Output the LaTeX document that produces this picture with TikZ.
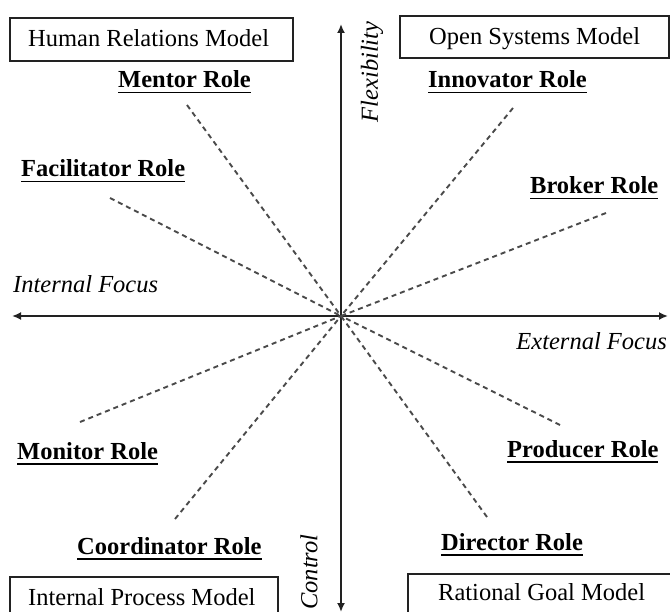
\documentclass[tikz,border=0pt]{standalone}
\usepackage{fontspec}
\setmainfont{Liberation Serif}
\usetikzlibrary{arrows.meta}
\newcommand\roleul[1]{\setbox0\hbox{#1}\rlap{\rule[-5.5bp]{\wd0}{1.8bp}}\box0}
\definecolor{axisgray}{HTML}{222222}
\definecolor{dashgray}{HTML}{4A4A4A}
\tikzset{
  rolelabel/.style={inner sep=0pt, anchor=base west, font=\fontsize{24.5bp}{29bp}\selectfont\bfseries},
  modeltext/.style={inner sep=0pt, anchor=base west, font=\fontsize{24.5bp}{29bp}\selectfont},
  axislabel/.style={inner sep=0pt, font=\fontsize{24.5bp}{29bp}\selectfont\itshape},
  modelbox/.style={draw=axisgray, line width=1.8bp},
  axisline/.style={draw=axisgray, line width=2.3bp, {Latex[length=9bp,width=8bp]}-{Latex[length=9bp,width=8bp]}},
  roleline/.style={draw=dashgray, line width=1.9bp, dash pattern=on 5bp off 4bp}
}
\begin{document}
\begin{tikzpicture}[x=1bp,y=-1bp]
\useasboundingbox (0,0) rectangle (670,612);
\fill[white] (0,0) rectangle (670,612);
\begin{scope}
\clip (0,0) rectangle (670,612);
% model boxes
\draw[modelbox] (10,18) rectangle (293,61);
\node[modeltext] (hrm) at (28,47) {Human Relations Model};
\draw[modelbox] (400,16) rectangle (669,58);
\node[modeltext] (osm) at (429,45) {Open Systems Model};
\draw[modelbox] (10,577) rectangle (278,630);
\node[modeltext] (ipm) at (28,605) {Internal Process Model};
\draw[modelbox] (408,574) rectangle (680,630);
\node[modeltext] (rgm) at (438,600) {Rational Goal Model};
% axes
\coordinate (c) at (341,316);
\coordinate (axtop) at (341,24);
\coordinate (axbot) at (341,612);
\coordinate (axleft) at (12,316);
\coordinate (axright) at (668,316);
\draw[axisline] (axbot) -- (axtop);
\draw[axisline] (axleft) -- (axright);
\node[axislabel, rotate=90] (flex) at (372,72) {Flexibility};
\node[axislabel, rotate=90] (ctrl) at (309,572) {Control};
\node[axislabel, anchor=base west] (intf) at (13,292) {Internal Focus};
\node[axislabel, anchor=base east] (extf) at (667,349) {External Focus};
% roles
\node[rolelabel] (mentor) at (118,88) {\roleul{Mentor Role}};
\node[rolelabel] (innov) at (428,88) {\roleul{Innovator Role}};
\node[rolelabel] (facil) at (21,177) {\roleul{Facilitator Role}};
\node[rolelabel] (broker) at (530,194) {\roleul{Broker Role}};
\node[rolelabel] (monitor) at (17,459) {\roleul{Monitor Role}};
\node[rolelabel] (producer) at (507,457) {\roleul{Producer Role}};
\node[rolelabel] (director) at (441,550) {\roleul{Director Role}};
\node[rolelabel] (coord) at (77,554) {\roleul{Coordinator Role}};
% dashed role lines
\coordinate (mentorEnd) at (187,105);
\coordinate (innovEnd) at (513,108);
\coordinate (facilEnd) at (110,198);
\coordinate (brokerEnd) at (606,213);
\coordinate (monitorEnd) at (80,422);
\coordinate (coordEnd) at (175,519);
\coordinate (producerEnd) at (560,425);
\coordinate (directorEnd) at (487,517);
\draw[roleline] (mentorEnd) -- (c);
\draw[roleline] (innovEnd) -- (c);
\draw[roleline] (facilEnd) -- (c);
\draw[roleline] (brokerEnd) -- (c);
\draw[roleline] (monitorEnd) -- (c);
\draw[roleline] (coordEnd) -- (c);
\draw[roleline] (producerEnd) -- (c);
\draw[roleline] (directorEnd) -- (c);
\end{scope}
\end{tikzpicture}
\end{document}
